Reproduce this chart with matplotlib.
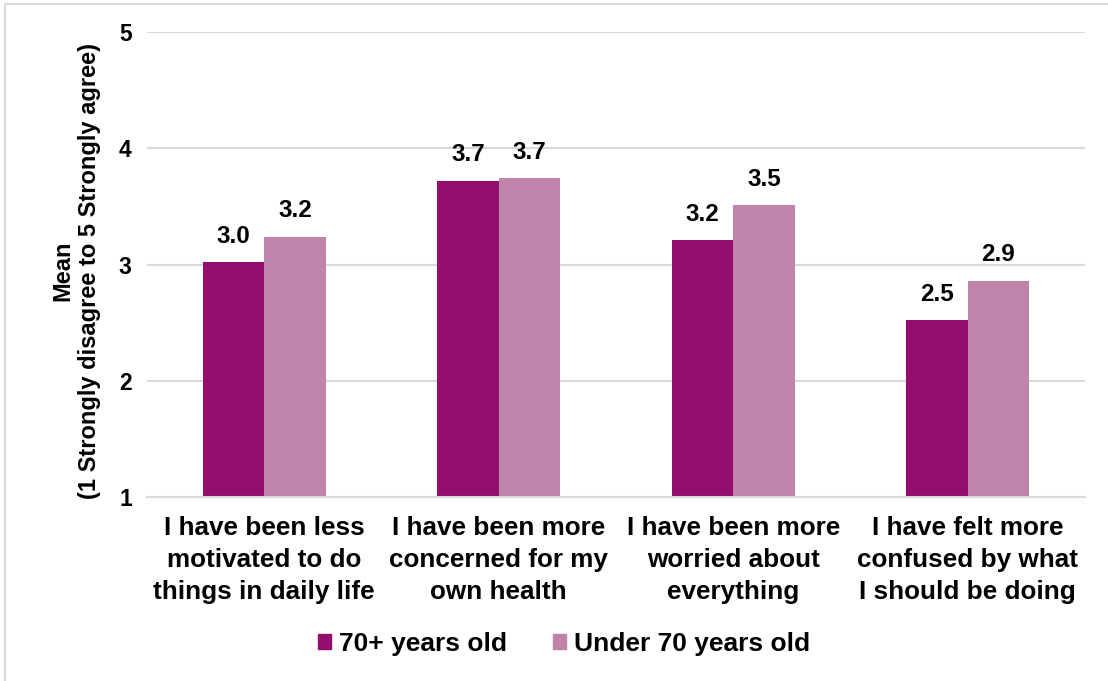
import matplotlib
matplotlib.use("Agg")
import matplotlib.pyplot as plt
import matplotlib.patches as mpatches
import numpy as np

plt.rcParams['font.family'] = ['Liberation Sans', 'DejaVu Sans']
plt.rcParams['font.weight'] = 'bold'

categories = [
    "I have been less\nmotivated to do\nthings in daily life",
    "I have been more\nconcerned for my\nown health",
    "I have been more\nworried about\neverything",
    "I have felt more\nconfused by what\nI should be doing",
]
series_names = ["70+ years old", "Under 70 years old"]
older = [3.02, 3.72, 3.21, 2.52]
younger = [3.24, 3.74, 3.51, 2.86]
y_ticks = [1, 2, 3, 4, 5]

colors = ["#930E6E", "#C084AA"]

fig = plt.figure(figsize=(11.08, 6.81), dpi=100)
ax = fig.add_axes([0.1327, 0.2702, 0.8465, 0.6828])

x = np.arange(len(categories))
w = 0.262
bars1 = ax.bar(x - w / 2, older, w, color=colors[0], label=series_names[0], zorder=2)
bars2 = ax.bar(x + w / 2, younger, w, color=colors[1], label=series_names[1], zorder=2)

for bars, vals in ((bars1, older), (bars2, younger)):
    for b, v in zip(bars, vals):
        ax.annotate(f"{v:.1f}", (b.get_x() + b.get_width() / 2, v),
                    xytext=(0, 10.5), textcoords="offset points",
                    ha="center", va="bottom", fontsize=17.5, fontweight="bold")

ax.set_xlim(-0.5, len(categories) - 0.5)
ax.set_ylim(1, 5)
ax.set_yticks(y_ticks)
ax.set_yticklabels([str(t) for t in y_ticks], fontsize=16.5, fontweight="bold")
ax.set_xticks(x)
ax.set_xticklabels(categories, fontsize=18.8, fontweight="bold", linespacing=1.4)
ax.tick_params(axis="both", length=0)
ax.tick_params(axis="y", pad=11)
ax.tick_params(axis="x", pad=14)

ax.grid(axis="y", color="#D9D9D9", linewidth=1.5, zorder=0)
for s in ("top", "right", "left"):
    ax.spines[s].set_visible(False)
ax.spines["bottom"].set_color("#D9D9D9")
ax.spines["bottom"].set_linewidth(1.5)

fig.text(0.0686, 0.602, "Mean\n(1 Strongly disagree to 5 Strongly agree)",
         rotation=90, ha="center", va="center", fontsize=17, fontweight="bold",
         linespacing=1.2)

handles = [mpatches.Patch(color=c) for c in colors]
fig.legend(handles, series_names, loc="center", bbox_to_anchor=(0.509, 0.054),
           ncol=2, frameon=False, handlelength=0.5, handleheight=0.5,
           handletextpad=0.3, columnspacing=1.75, prop={"weight": "bold", "size": 19})

# light outer frame of the chart area
fig.patches.append(mpatches.Rectangle((5 / 1108, -0.1), 1.2, 1 - 4 / 681 + 0.1,
                                      transform=fig.transFigure, fill=False,
                                      edgecolor="#D9D9D9", linewidth=1.5))

fig.savefig("out.png", dpi=100)
